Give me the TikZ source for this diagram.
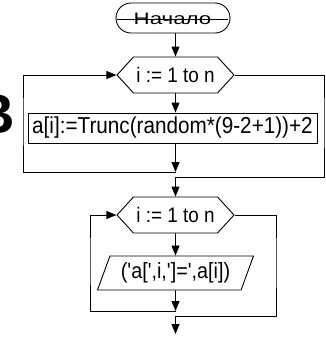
\documentclass[tikz,border=0pt]{standalone}
\usepackage{fontspec}
\setmainfont{Liberation Sans}
\newfontfamily\flowfont{Liberation Sans}[FakeStretch=0.9]
\newfontfamily\widefont{Liberation Sans}[FakeStretch=1.35]
\usetikzlibrary{shapes.geometric,shapes.misc,shapes.symbols,arrows.meta}
\tikzset{
  ln/.style={draw=black, line width=0.9pt},
  arr/.style={ln, -{Triangle[length=10pt,width=8pt]}},
  txt/.style={font=\flowfont\fontsize{21}{24}\selectfont, text=black},
  term/.style={ln, rounded rectangle, minimum width=114pt, minimum height=30pt, inner sep=0pt},
  loopbox/.style={ln, txt, signal, signal to=west and east, signal pointer angle=95,
     minimum width=117pt, minimum height=36pt, inner sep=0pt},
  procbox/.style={ln, txt, font=\flowfont\fontsize{23}{26}\selectfont, rectangle, minimum width=289pt, minimum height=30pt, inner sep=0pt},
  iobox/.style={ln, txt, font=\flowfont\fontsize{22}{25}\selectfont, trapezium, trapezium left angle=60, trapezium right angle=120,
     trapezium stretches body, minimum width=156pt, minimum height=34pt, inner sep=0.5pt}
}
\begin{document}
\begin{tikzpicture}[x=1pt,y=-1pt]
\fill[white] (0,0) rectangle (325,338);
\useasboundingbox (0,0) rectangle (325,338);
% big letter at left edge
\node[anchor=base east, inner sep=0pt, font=\bfseries\fontsize{56}{60}\selectfont] (big) at (15,133) {B};
% shapes
\node[term] (start) at (173,18) {};
\node[inner sep=0pt, font=\widefont\fontsize{16.5}{18}\selectfont] (starttxt) at (172.5,18.5) {Начало};
\draw[ln] ([xshift=1.5pt,yshift=-1.5pt]start.west) -- ([xshift=-2.5pt,yshift=-1.5pt]start.east);
\node[loopbox] (h1) at (175.5,75) {i := 1 to n};
\node[procbox] (body) at (172.5,128) {a[i]:=Trunc(random*(9-2+1))+2};
\node[loopbox] (h2) at (175.5,215) {i := 1 to n};
\node[iobox] (out) at (175.5,273) {('a[',i,']=',a[i])};
% helper coordinates
\coordinate (j1) at (175.5,172);
\coordinate (l1) at (23,120);
\coordinate (r1) at (324,120);
\coordinate (j2) at (175.5,177);
\coordinate (j3) at (175.5,311);
\coordinate (l2) at (90,260);
\coordinate (r2) at (276,260);
\coordinate (j4) at (175.5,316);
\coordinate (fin) at (175.5,334);
% connectors
\draw[arr] (h1.north |- start.south) -- (h1.north);
\draw[arr] (h1.south) -- (h1.south |- body.north);
\draw[arr] (body.south -| h1.south) -- (j1);
\draw[arr] (j1) -| (l1) |- (h1.west);
\draw[arr] (h1.east) -| (r1) |- (j2) -- (h2.north);
\draw[arr] (h2.south) -- (out.north);
\draw[arr] (out.south) -- (j3);
\draw[arr] (j3) -| (l2) |- (h2.west);
\draw[arr] (h2.east) -| (r2) |- (j4) -- (fin);
\end{tikzpicture}
\end{document}
